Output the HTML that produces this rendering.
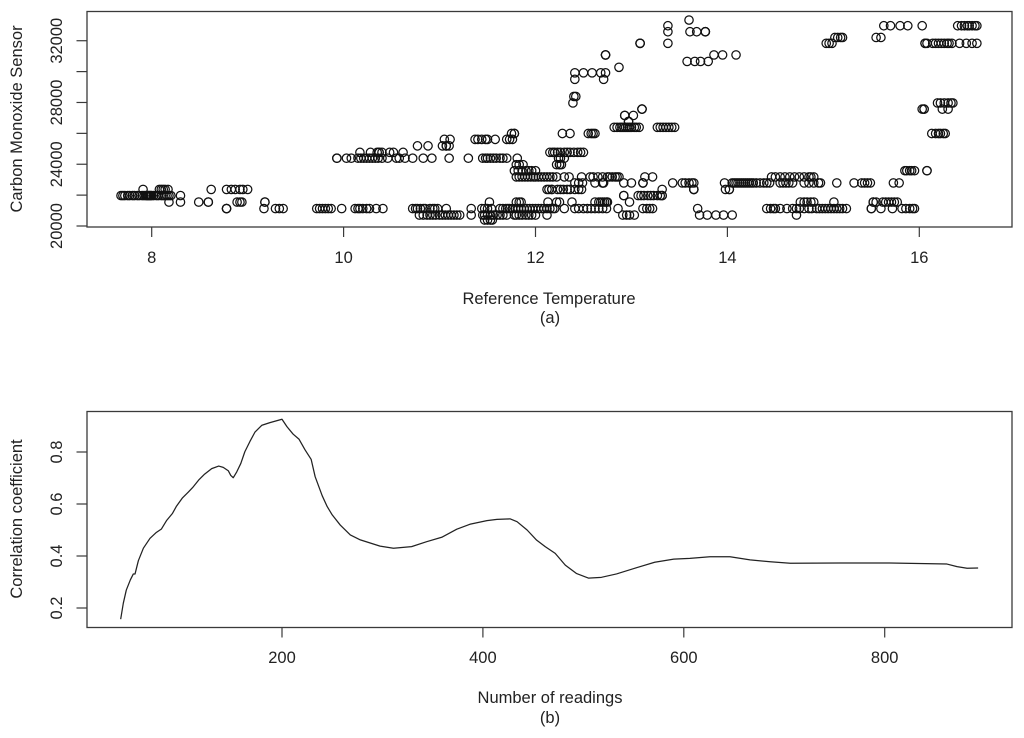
<!DOCTYPE html>
<html>
<head>
<meta charset="utf-8">
<title>Carbon monoxide sensor and correlation charts</title>
<style>
html,body{margin:0;padding:0;background:#fff;}
svg{display:block;filter:blur(0.35px);}
text{font-family:"Liberation Sans",sans-serif;font-size:16.5px;fill:#222;}
.frame{fill:none;stroke:#3a3a3a;stroke-width:1.3;}
.tick{stroke:#3a3a3a;stroke-width:1.2;}
</style>
</head>
<body>
<svg id="figure" xmlns="http://www.w3.org/2000/svg" width="1024" height="738" viewBox="0 0 1024 738">
  <rect width="1024" height="738" fill="#fff"/>
  <g id="scatter-chart">
    <rect class="frame" x="87" y="11.5" width="925" height="215.5"/>
    <g id="scatter-points" fill="none" stroke="#111" stroke-width="1.25"></g>
    <g id="scatter-axes"></g>
    <text x="17" y="119" dy="5" text-anchor="middle" transform="rotate(-90 17 119)">Carbon Monoxide Sensor</text>
    <text x="549" y="304" text-anchor="middle">Reference Temperature</text>
    <text x="550" y="323" text-anchor="middle">(a)</text>
  </g>
  <g id="line-chart">
    <rect class="frame" x="87" y="411.5" width="925" height="216"/>
    <path id="correlation-line" fill="none" stroke="#222" stroke-width="1.25" stroke-linejoin="round"/>
    <g id="line-axes"></g>
    <text x="17" y="519" dy="5" text-anchor="middle" transform="rotate(-90 17 519)">Correlation coefficient</text>
    <text x="550" y="703" text-anchor="middle">Number of readings</text>
    <text x="550" y="723" text-anchor="middle">(b)</text>
  </g>
</svg>
<script>
// Panel (a): sensor readings fall on discrete levels; each level lists its temperatures.
const coLevels = [20387,20710,21130,21550,21970,22370,22790,23180,23580,23970,24390,24770,25190,25610,25990,26390,26770,27160,27570,27970,28390,29500,29920,30280,30660,31080,31830,32210,32580,32970,33340];
const tempsAtLevel = [
  [11.47,11.5,11.53,11.55],
  [10.79,10.83,10.87,10.9,10.93,10.96,11.0,11.03,11.06,11.09,11.12,11.15,11.18,11.21,11.33,11.45,11.47,11.5,11.53,11.56,11.6,11.63,11.66,11.7,11.78,11.8,11.83,11.86,11.9,11.93,11.96,12.0,12.12,12.91,12.95,12.98,13.03,13.71,13.79,13.88,13.96,14.05,14.72],
  [8.78,8.78,8.78,9.17,9.29,9.33,9.37,9.72,9.75,9.78,9.81,9.84,9.87,9.98,10.12,10.15,10.17,10.2,10.24,10.27,10.34,10.41,10.72,10.75,10.77,10.8,10.83,10.85,10.9,10.93,10.95,10.98,11.07,11.33,11.44,11.47,11.5,11.54,11.63,11.66,11.69,11.71,11.73,11.76,11.79,11.82,11.85,11.88,11.91,11.94,11.97,12.0,12.03,12.06,12.09,12.12,12.15,12.18,12.2,12.3,12.41,12.45,12.5,12.54,12.58,12.62,12.66,12.7,12.74,12.86,13.12,13.16,13.19,13.22,13.69,14.41,14.45,14.48,14.5,14.55,14.62,14.68,14.72,14.75,14.8,14.85,14.88,14.93,14.96,14.99,15.02,15.05,15.08,15.11,15.14,15.17,15.2,15.24,15.5,15.5,15.6,15.72,15.82,15.86,15.9,15.93,15.95],
  [8.18,8.3,8.49,8.59,8.59,8.89,8.92,8.94,9.18,9.18,11.52,11.8,11.83,11.85,12.13,12.22,12.25,12.38,12.62,12.66,12.7,12.74,12.68,12.72,12.75,12.98,14.76,14.8,14.83,14.87,14.9,15.11,15.52,15.52,15.55,15.62,15.65,15.68,15.71,15.74,15.77],
  [7.68,7.7,7.72,7.75,7.77,7.8,7.82,7.85,7.87,7.9,7.92,7.94,7.95,7.96,7.97,7.98,7.99,8.0,8.02,8.05,8.07,8.1,8.12,8.14,8.16,8.18,8.2,8.3,12.92,12.92,13.07,13.1,13.13,13.17,13.2,13.23,13.27,13.3,13.32,13.32],
  [7.91,8.08,8.1,8.12,8.14,8.17,8.62,8.78,8.83,8.87,8.92,8.95,9.0,12.12,12.14,12.17,12.17,12.23,12.26,12.29,12.33,12.36,12.41,12.45,12.48,13.32,13.65,13.65,13.65,13.98,14.02,14.02],
  [12.41,12.45,12.49,12.62,12.7,12.7,12.71,12.92,13.0,13.12,13.12,13.12,13.43,13.53,13.56,13.6,13.63,13.65,13.97,14.05,14.07,14.09,14.11,14.13,14.15,14.17,14.19,14.21,14.23,14.25,14.27,14.3,14.34,14.38,14.41,14.44,14.55,14.58,14.61,14.64,14.68,14.8,14.85,14.9,14.95,14.97,15.14,15.32,15.4,15.43,15.46,15.49,15.73,15.79],
  [11.8,11.83,11.86,11.89,11.92,11.95,11.98,12.0,12.03,12.06,12.09,12.12,12.15,12.18,12.22,12.3,12.35,12.48,12.57,12.6,12.65,12.7,12.75,12.77,12.8,12.83,12.85,12.87,13.14,13.22,14.46,14.5,14.55,14.6,14.65,14.7,14.75,14.8,14.85,14.87,14.9],
  [11.78,11.82,11.86,11.9,11.93,11.96,12.0,15.85,15.87,15.9,15.92,15.95,16.08,16.08],
  [11.8,11.83,11.87,12.25,12.25,12.27,12.22],
  [9.93,9.93,10.03,10.08,10.15,10.18,10.21,10.24,10.27,10.3,10.33,10.36,10.4,10.46,10.55,10.58,10.64,10.72,10.83,10.92,11.1,11.3,11.45,11.48,11.5,11.53,11.56,11.59,11.63,11.66,11.7,11.81,12.24,12.26,12.3],
  [10.17,10.28,10.35,10.37,10.37,10.4,10.48,10.52,10.62,12.15,12.18,12.2,12.23,12.26,12.3,12.33,12.36,12.4,12.44,12.47,12.5],
  [10.77,10.88,11.03,11.07,11.07,11.1],
  [11.05,11.11,11.37,11.4,11.44,11.48,11.5,11.58,11.7,11.73,11.76],
  [11.78,11.78,11.75,12.28,12.36,12.55,12.58,12.6,12.62,16.13,16.17,16.2,16.22,16.25,16.27],
  [12.82,12.85,12.88,12.9,12.92,12.94,12.96,12.98,13.0,13.03,13.05,13.08,13.27,13.3,13.33,13.36,13.39,13.42,13.45],
  [12.97,12.97],
  [12.93,12.93,13.02],
  [13.11,13.11,13.11,16.03,16.05,16.05,16.24,16.3],
  [12.39,16.19,16.22,16.26,16.3,16.33,16.35],
  [12.4,12.42],
  [12.41,12.71],
  [12.41,12.5,12.59,12.68,12.73],
  [12.87],
  [13.58,13.66,13.72,13.8],
  [12.73,12.73,12.73,13.86,13.95,14.09],
  [13.09,13.09,13.09,13.38,15.03,15.06,15.09,16.06,16.06,16.08,16.14,16.17,16.2,16.23,16.26,16.29,16.31,16.34,16.42,16.49,16.55,16.6],
  [15.12,15.15,15.18,15.2,15.55,15.6],
  [13.38,13.61,13.68,13.77,13.77,13.77],
  [13.38,15.63,15.7,15.8,15.88,16.03,16.4,16.44,16.47,16.5,16.52,16.55,16.58,16.6],
  [13.6]
];
const scatterXTicks = [8,10,12,14,16];
const scatterYTicks = [20000,22000,24000,26000,28000,30000,32000];
const scatterYLabels = ["20000","","24000","","28000","","32000"];

// Panel (b): correlation coefficient versus number of readings.
const readingCounts = [39.4,42,45,49,52,53.7,57,62,68.6,75,80,85,91,95,101,107,111,117,123,130,137,141.5,146.5,149,151.5,155,159,163,168,173,180,188,200,205,211,217,223,229,233,240,245,250,258,268,278,297.6,311,329,344,359,374,387,404,414,427,434,444,453.5,462,472,482,493,505,518,533,553,571,590,606,626,646,666,686,706,755,805,862,872,882,893];
const correlationValues = [0.157,0.218,0.269,0.308,0.331,0.331,0.382,0.43,0.468,0.491,0.504,0.536,0.564,0.592,0.624,0.647,0.663,0.692,0.715,0.736,0.746,0.741,0.728,0.71,0.701,0.724,0.756,0.801,0.84,0.876,0.903,0.913,0.926,0.897,0.869,0.849,0.808,0.772,0.705,0.632,0.59,0.558,0.519,0.481,0.462,0.438,0.43,0.436,0.455,0.472,0.503,0.522,0.536,0.541,0.543,0.532,0.5,0.461,0.436,0.41,0.365,0.333,0.315,0.318,0.331,0.355,0.376,0.388,0.391,0.397,0.397,0.385,0.378,0.372,0.373,0.373,0.369,0.359,0.353,0.354];
const lineXTicks = [200,400,600,800];
const lineYTicks = [0.2,0.4,0.6,0.8];
const lineYLabels = ["0.2","0.4","0.6","0.8"];

const NS = 'http://www.w3.org/2000/svg';
function scatterX(t){ return 151.7 + (t - 8) * 95.95; }
function scatterY(v){ return 226 - (v - 20000) * 0.01544; }
function lineX(n){ return 282 + (n - 200) * 1.0045; }
function lineY(r){ return 608 - (r - 0.2) * 260; }

function tickLine(parent, x1, y1, x2, y2, name){
  const el = document.createElementNS(NS, 'line');
  el.setAttribute('x1', x1);
  el.setAttribute('y1', y1);
  el.setAttribute('x2', x2);
  el.setAttribute('y2', y2);
  el.setAttribute('class', 'tick');
  
  
  parent.appendChild(el);
}
function tickText(parent, x, y, rotate, str, name){
  const el = document.createElementNS(NS, 'text');
  el.setAttribute('x', x);
  el.setAttribute('y', y);
  el.setAttribute('text-anchor', 'middle');
  if (rotate) el.setAttribute('transform', 'rotate(-90 ' + x + ' ' + y + ')');
  el.textContent = str;
  
  
  parent.appendChild(el);
}

const pointsGroup = document.getElementById('scatter-points');
coLevels.forEach(function(level, i){
  tempsAtLevel[i].forEach(function(temp){
    const c = document.createElementNS(NS, 'circle');
    c.setAttribute('cx', scatterX(temp).toFixed(2));
    c.setAttribute('cy', scatterY(level).toFixed(2));
    c.setAttribute('r', '4.2');
    
    
    pointsGroup.appendChild(c);
  });
});

const scatterAxes = document.getElementById('scatter-axes');
scatterXTicks.forEach(function(t){
  tickLine(scatterAxes, scatterX(t), 227, scatterX(t), 237, 'scatter-x-tick');
  tickText(scatterAxes, scatterX(t), 263, false, String(t), 'scatter-x-tick-label');
});
scatterYTicks.forEach(function(v, i){
  tickLine(scatterAxes, 76.5, scatterY(v), 87, scatterY(v), 'scatter-y-tick');
  if (scatterYLabels[i]) tickText(scatterAxes, 62, scatterY(v), true, scatterYLabels[i], 'scatter-y-tick-label');
});

const linePath = readingCounts.map(function(n, i){
  return (i ? 'L' : 'M') + lineX(n).toFixed(2) + ' ' + lineY(correlationValues[i]).toFixed(2);
}).join(' ');
document.getElementById('correlation-line').setAttribute('d', linePath);

const lineAxes = document.getElementById('line-axes');
lineXTicks.forEach(function(n){
  tickLine(lineAxes, lineX(n), 627.5, lineX(n), 637.5, 'line-x-tick');
  tickText(lineAxes, lineX(n), 663, false, String(n), 'line-x-tick-label');
});
lineYTicks.forEach(function(r, i){
  tickLine(lineAxes, 76.5, lineY(r), 87, lineY(r), 'line-y-tick');
  tickText(lineAxes, 62, lineY(r), true, lineYLabels[i], 'line-y-tick-label');
});
</script>
</body>
</html>
